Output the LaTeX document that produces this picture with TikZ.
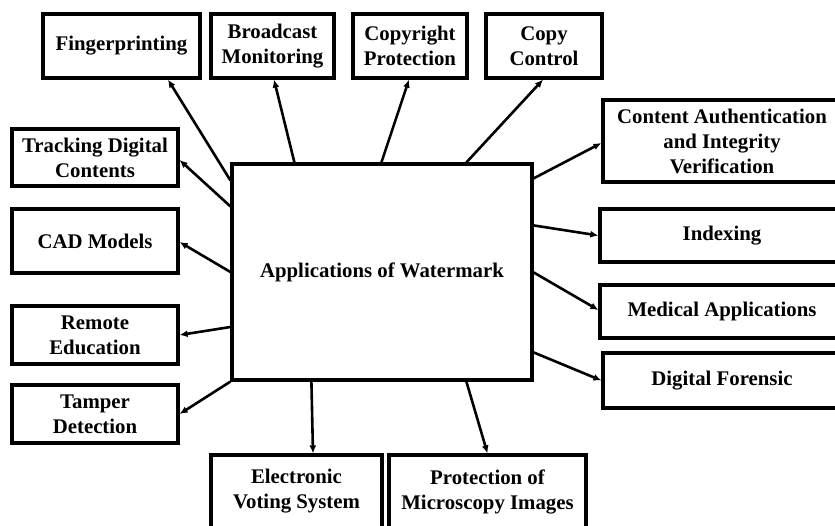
\documentclass[tikz,border=0pt]{standalone}
\usepackage{fontspec}
\setmainfont{Liberation Serif}
\usetikzlibrary{arrows.meta}
\begin{document}
\begin{tikzpicture}[x=1pt,y=-1pt,
  box/.style={draw, line width=3.2pt, rectangle, inner sep=0pt, align=center,
    font=\fontsize{20.8}{25}\selectfont\bfseries},
  arr/.style={line width=2.6pt, -{Latex[length=8pt,width=7pt]}}]
\useasboundingbox (0,0) rectangle (835,525);
\clip (0,0) rectangle (835,525);
\fill[white] (0,0) rectangle (835,525);

% central box
\node[box, minimum width=300pt, minimum height=216pt] (main) at (382,272) {Applications of Watermark};

% top row
\node[box, minimum width=157pt, minimum height=64pt] (fp) at (121.5,46) {Fingerprinting};
\node[box, minimum width=123pt, minimum height=64pt] (bm) at (272.5,46) {Broadcast\\Monitoring};
\node[box, minimum width=114pt, minimum height=64pt] (cp) at (410,46) {Copyright\\Protection};
\node[box, minimum width=116pt, minimum height=64pt] (cc) at (544,46) {Copy\\Control};

% right column
\node[box, minimum width=238pt, minimum height=82pt] (ca) at (722,141) {Content Authentication\\and Integrity\\Verification};
\node[box, minimum width=244pt, minimum height=53pt] (ix) at (722,235.5) {Indexing};
\node[box, minimum width=244pt, minimum height=53pt] (ma) at (722,311.5) {Medical Applications};
\node[box, minimum width=238pt, minimum height=55pt] (df) at (722,380.5) {Digital Forensic};

% left column
\node[box, minimum width=166pt, minimum height=57pt] (td) at (95,157.5) {Tracking Digital\\Contents};
\node[box, minimum width=166pt, minimum height=64pt] (cad) at (95,241) {CAD Models};
\node[box, minimum width=166pt, minimum height=58pt] (re) at (95,335) {Remote\\Education};
\node[box, minimum width=166pt, minimum height=58pt] (tp) at (95,414) {Tamper\\Detection};

% bottom row
\node[box, minimum width=171pt, minimum height=73pt] (ev) at (296.5,491.5) {Electronic\\Voting System};
\node[box, minimum width=197pt, minimum height=73pt] (pm) at (487.5,491.5) {Protection of\\Microscopy Images};

% connectors
\draw[arr] ([yshift=-18pt]main.north west) -- ([xshift=46.5pt]fp.south);
\draw[arr] ([yshift=-44pt]main.north west) -- ([yshift=-2.5pt]td.east);
\draw[arr] ([xshift=64pt]main.north west) -- ([xshift=1.5pt]bm.south);
\draw[arr] ([xshift=151pt]main.north west) -- ([xshift=-1pt]cp.south);
\draw[arr] ([xshift=236pt]main.north west) -- ([xshift=-1pt]cc.south);
\draw[arr] ([yshift=-16pt]main.north east) -- ([yshift=-2pt]ca.west);
\draw[arr] ([yshift=-63pt]main.north east) -- (ix.west);
\draw[arr] ([yshift=-110pt]main.north east) -- ([yshift=1.5pt]ma.west);
\draw[arr] ([yshift=-190pt]main.north east) -- (df.west);
\draw[arr] (main.west) -- ([yshift=-1pt]cad.east);
\draw[arr] ([yshift=-55pt]main.west) -- (re.east);
\draw[arr] (main.south west) -- (tp.east);
\draw[arr] ([xshift=81pt]main.south west) -- ([xshift=16.5pt]ev.north);
\draw[arr] ([xshift=236pt]main.south west) -- (pm.north);
\end{tikzpicture}
\end{document}
